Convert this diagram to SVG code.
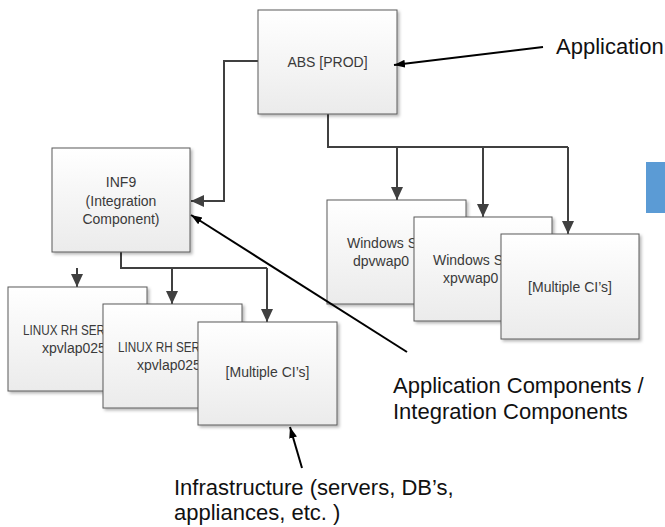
<svg xmlns="http://www.w3.org/2000/svg" width="665" height="527" viewBox="0 0 665 527">
  <defs>
    <linearGradient id="boxFill" x1="0" y1="0" x2="0" y2="1">
      <stop offset="0" stop-color="#ffffff"/>
      <stop offset="1" stop-color="#ebebeb"/>
    </linearGradient>
    <filter id="shadow" x="-10%" y="-10%" width="130%" height="130%">
      <feDropShadow dx="2" dy="2" stdDeviation="1.5" flood-color="#000" flood-opacity="0.28"/>
    </filter>
    <marker id="grayArrow" markerUnits="userSpaceOnUse" markerWidth="14" markerHeight="14" viewBox="0 0 14 14" refX="13" refY="7" orient="auto">
      <path d="M0,1 L13,7 L0,13 Z" fill="#404040"/>
    </marker>
    <marker id="blackArrow" markerUnits="userSpaceOnUse" markerWidth="12" markerHeight="10" viewBox="0 0 12 10" refX="11" refY="5" orient="auto">
      <path d="M0,1 L11,5 L0,9 Z" fill="#000"/>
    </marker>
  </defs>
  <style>
    .box { fill: url(#boxFill); stroke: #5a5a5a; stroke-width: 1; filter: url(#shadow); }
    .lbl { font-family: "Liberation Sans", Arial, sans-serif; font-size: 14px; fill: #3a3a3a; }
    .mid { text-anchor: middle; }
    .note { font-family: "Liberation Sans", Arial, sans-serif; font-size: 22px; fill: #111; }
    .conn { fill: none; stroke: #404040; stroke-width: 2; }
    .ann { fill: none; stroke: #000; stroke-width: 2; }
  </style>

  <g id="connectors">
    <path class="conn" d="M258,61 H224 V201 H191" marker-end="url(#grayArrow)"/>
    <path class="conn" d="M328,114 V147 H568"/>
    <path class="conn" d="M397,147 V200" marker-end="url(#grayArrow)"/>
    <path class="conn" d="M483,147 V217" marker-end="url(#grayArrow)"/>
    <path class="conn" d="M568,147 V234" marker-end="url(#grayArrow)"/>
    <path class="conn" d="M121,252 V268 H267"/>
    <path class="conn" d="M77,268 V287" marker-end="url(#grayArrow)"/>
    <path class="conn" d="M172,268 V304" marker-end="url(#grayArrow)"/>
    <path class="conn" d="M267,268 V322" marker-end="url(#grayArrow)"/>
  </g>

  <g id="abs">
    <rect class="box" x="258" y="10" width="139" height="104"/>
    <text class="lbl mid" x="327.5" y="67">ABS [PROD]</text>
  </g>

  <g id="inf9">
    <rect class="box" x="52" y="148" width="138" height="104"/>
    <text class="lbl mid" x="121" y="187">INF9</text>
    <text class="lbl mid" x="121" y="205.5">(Integration</text>
    <text class="lbl mid" x="121" y="224">Component)</text>
  </g>

  <g id="win1">
    <rect class="box" x="327" y="200" width="139" height="104"/>
    <text class="lbl" x="347" y="248">Windows S</text>
    <text class="lbl" x="353" y="266">dpvwap0</text>
  </g>

  <g id="win2">
    <rect class="box" x="414" y="217" width="138" height="104"/>
    <text class="lbl" x="433" y="265">Windows S</text>
    <text class="lbl" x="443" y="283">xpvwap0</text>
  </g>

  <g id="win3">
    <rect class="box" x="501" y="234" width="138" height="105"/>
    <text class="lbl mid" x="570" y="292">[Multiple CI’s]</text>
  </g>

  <g id="linux1">
    <rect class="box" x="8" y="287" width="139" height="104"/>
    <text class="lbl" x="23" y="335" textLength="82" lengthAdjust="spacingAndGlyphs">LINUX RH SER</text>
    <text class="lbl" x="42" y="353">xpvlap025</text>
  </g>

  <g id="linux2">
    <rect class="box" x="103" y="304" width="139" height="104"/>
    <text class="lbl" x="118" y="352" textLength="82" lengthAdjust="spacingAndGlyphs">LINUX RH SER</text>
    <text class="lbl" x="137" y="370">xpvlap025</text>
  </g>

  <g id="linux3">
    <rect class="box" x="198" y="322" width="139" height="103"/>
    <text class="lbl mid" x="267.5" y="377">[Multiple CI’s]</text>
  </g>

  <g id="legend-bar">
    <rect x="646" y="162" width="19" height="51" fill="#5b9bd5"/>
  </g>

  <g id="annotations">
    <path class="ann" d="M543,47 L394,65" marker-end="url(#blackArrow)"/>
    <path class="ann" d="M407,352 L191,215" marker-end="url(#blackArrow)"/>
    <path class="ann" d="M302,468 L290,427" marker-end="url(#blackArrow)"/>
    <text class="note" x="556" y="54">Application</text>
    <text class="note" x="393" y="393">Application Components /</text>
    <text class="note" x="393" y="419">Integration Components</text>
    <text class="note" x="174" y="495">Infrastructure (servers, DB’s,</text>
    <text class="note" x="174" y="520">appliances, etc. )</text>
  </g>
</svg>
